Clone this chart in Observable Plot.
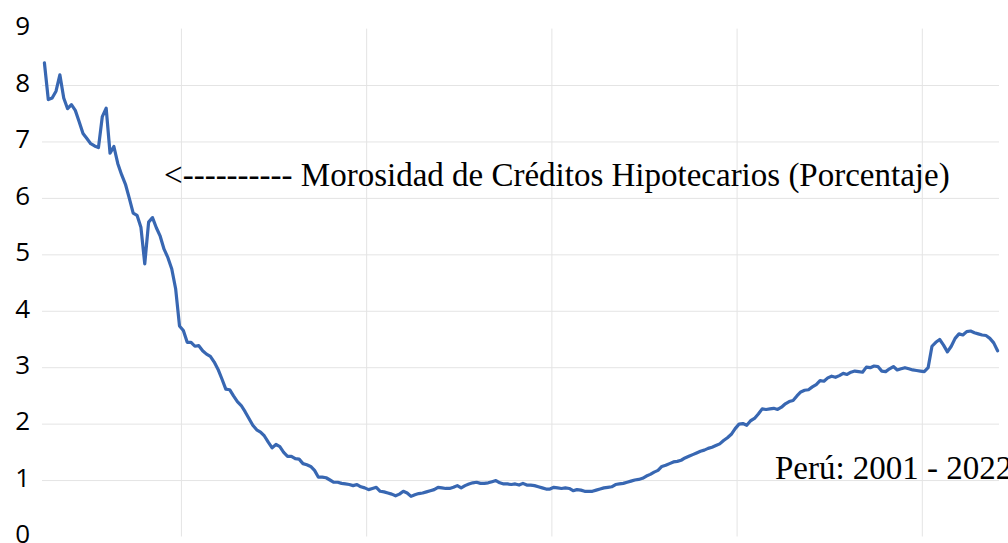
<!DOCTYPE html>
<html>
<head>
<meta charset="utf-8">
<script src="https://cdn.jsdelivr.net/npm/d3@7"></script>
<script src="https://cdn.jsdelivr.net/npm/@observablehq/plot@0.6"></script>
<style>
  html, body { margin: 0; padding: 0; background: white; overflow: hidden; }
  #chart { width: 1008px; height: 543px; }
</style>
</head>
<body>
<div id="chart"></div>
<script>
// Monthly mortgage delinquency ratio (%), Perú, starting January 2001
const startDate = "2001-01";
const morosidad = [
  8.40, 7.75, 7.78, 7.90, 8.19, 7.78, 7.59, 7.66, 7.56, 7.36,
  7.15, 7.06, 6.97, 6.93, 6.90, 7.45, 7.60, 6.80, 6.92, 6.62,
  6.42, 6.25, 6.00, 5.74, 5.70, 5.49, 4.84, 5.58, 5.66, 5.48,
  5.33, 5.10, 4.95, 4.75, 4.40, 3.74, 3.66, 3.45, 3.45, 3.38,
  3.39, 3.30, 3.24, 3.20, 3.10, 2.97, 2.80, 2.62, 2.61, 2.50,
  2.40, 2.33, 2.22, 2.10, 1.98, 1.90, 1.86, 1.79, 1.68, 1.58,
  1.64, 1.60, 1.50, 1.43, 1.43, 1.39, 1.38, 1.30, 1.28, 1.25,
  1.18, 1.06, 1.06, 1.05, 1.01, 0.97, 0.97, 0.95, 0.94, 0.93,
  0.91, 0.93, 0.89, 0.87, 0.84, 0.86, 0.88, 0.81, 0.80, 0.78,
  0.76, 0.73, 0.76, 0.81, 0.78, 0.72, 0.75, 0.77, 0.78, 0.80,
  0.82, 0.84, 0.88, 0.87, 0.86, 0.86, 0.88, 0.91, 0.87, 0.91,
  0.94, 0.96, 0.97, 0.95, 0.95, 0.96, 0.98, 1.00, 0.96, 0.94,
  0.94, 0.93, 0.94, 0.92, 0.95, 0.92, 0.92, 0.91, 0.89, 0.87,
  0.85, 0.85, 0.88, 0.87, 0.86, 0.87, 0.86, 0.82, 0.84, 0.83,
  0.81, 0.81, 0.81, 0.83, 0.85, 0.87, 0.88, 0.89, 0.93, 0.94,
  0.95, 0.97, 0.99, 1.01, 1.02, 1.04, 1.08, 1.11, 1.15, 1.18,
  1.25, 1.27, 1.30, 1.33, 1.34, 1.36, 1.40, 1.43, 1.46, 1.49,
  1.52, 1.54, 1.57, 1.59, 1.62, 1.65, 1.71, 1.76, 1.82, 1.92,
  2.00, 2.01, 1.98, 2.06, 2.10, 2.18, 2.27, 2.26, 2.27, 2.28,
  2.26, 2.30, 2.36, 2.40, 2.42, 2.50, 2.57, 2.60, 2.61, 2.66,
  2.70, 2.77, 2.76, 2.82, 2.85, 2.83, 2.86, 2.90, 2.88, 2.92,
  2.94, 2.93, 2.92, 3.01, 3.00, 3.03, 3.02, 2.94, 2.93, 2.98,
  3.02, 2.96, 2.98, 3.00, 2.98, 2.96, 2.95, 2.94, 2.93, 3.00,
  3.38, 3.45, 3.50, 3.40, 3.28, 3.38, 3.52, 3.60, 3.58, 3.64,
  3.65, 3.62, 3.60, 3.58, 3.57, 3.52, 3.44, 3.30
];
const yTicks = [0, 1, 2, 3, 4, 5, 6, 7, 8, 9];
const yGridValues = [1, 2, 3, 4, 5, 6, 7, 8];
// vertical gridlines sit between months, every 48 months (month index)
const xGridValues = [35.5, 83.5, 131.5, 179.5, 227.5];
const seriesLabel = "<---------- Morosidad de Créditos Hipotecarios (Porcentaje)";
const periodLabel = "Perú: 2001 - 2022";

const data = morosidad.map((v, i) => ({ month: i, value: v }));

const chart = Plot.plot({
  width: 1008,
  height: 543,
  marginLeft: 42,
  marginRight: 9,
  marginTop: 28.6,
  marginBottom: 6.5,
  style: { background: "white", overflow: "visible" },
  x: { domain: [-0.5, morosidad.length - 0.5], axis: null },
  y: { domain: [0, 9], axis: null },
  marks: [
    Plot.ruleY(yGridValues, { stroke: "#e4e4e4", strokeWidth: 1 }),
    Plot.ruleX(xGridValues, { stroke: "#e4e4e4", strokeWidth: 1 }),
    Plot.axisY(yTicks, {
      tickSize: 0,
      tickPadding: 12.5,
      fontSize: 26,
      fontFamily: "Open Sans",
      fill: "#000",
      dy: -2,
      label: null,
      tickFormat: d => String(d)
    }),
    Plot.lineY(data, {
      x: "month",
      y: "value",
      stroke: "#3867b2",
      strokeWidth: 3.2,
      strokeLinejoin: "round",
      curve: "linear"
    }),
    Plot.text([seriesLabel], {
      x: 31.0,
      y: 6.40,
      text: d => d,
      textAnchor: "start",
      fontFamily: "Liberation Serif",
      fontSize: 33,
      fill: "#000"
    }),
    Plot.text([periodLabel], {
      x: 189.3,
      y: 1.21,
      text: d => d,
      textAnchor: "start",
      fontFamily: "Liberation Serif",
      fontSize: 33,
      fill: "#000"
    })
  ]
});

document.getElementById("chart").appendChild(chart);
</script>
</body>
</html>
